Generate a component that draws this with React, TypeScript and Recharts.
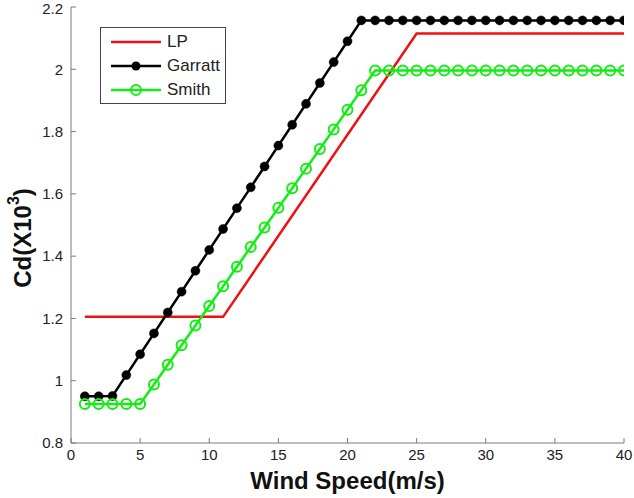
import React from "react";
import { Label, Line, LineChart, XAxis, YAxis } from "recharts";

const windSpeed = [
  1, 2, 3, 4, 5, 6, 7, 8, 9, 10, 11, 12, 13, 14, 15, 16, 17, 18, 19, 20,
  21, 22, 23, 24, 25, 26, 27, 28, 29, 30, 31, 32, 33, 34, 35, 36, 37, 38, 39, 40,
];

const garratt = [
  0.95, 0.95, 0.951, 1.018, 1.085, 1.152, 1.219, 1.286, 1.353, 1.42,
  1.487, 1.554, 1.621, 1.688, 1.755, 1.822, 1.889, 1.956, 2.023, 2.09,
  2.157, 2.157, 2.157, 2.157, 2.157, 2.157, 2.157, 2.157, 2.157, 2.157,
  2.157, 2.157, 2.157, 2.157, 2.157, 2.157, 2.157, 2.157, 2.157, 2.157,
];

const smith = [
  0.925, 0.925, 0.925, 0.925, 0.925, 0.988, 1.051, 1.114, 1.177, 1.24,
  1.303, 1.366, 1.429, 1.492, 1.555, 1.618, 1.681, 1.744, 1.807, 1.87,
  1.933, 1.996, 1.996, 1.996, 1.996, 1.996, 1.996, 1.996, 1.996, 1.996,
  1.996, 1.996, 1.996, 1.996, 1.996, 1.996, 1.996, 1.996, 1.996, 1.996,
];

// LP is piecewise linear, only the corners are needed
const lpSpeed = [1, 11, 25, 40];
const lpCd = [1.205, 1.205, 2.115, 2.115];

const xTicks = [0, 5, 10, 15, 20, 25, 30, 35, 40];
const yTicks = [0.8, 1, 1.2, 1.4, 1.6, 1.8, 2, 2.2];

const rows = windSpeed.map((u, i) => ({ u, garratt: garratt[i], smith: smith[i] }));
const lpRows = lpSpeed.map((u, i) => ({ u, lp: lpCd[i] }));

const FONT = "'Liberation Sans', Arial, sans-serif";
const AXIS = "#7a7a7a";
const GREEN = "#11ee11";
const RED = "#ee1111";
const tickStyle = { fontSize: 15, fill: "#222", fontFamily: FONT };

const fmtY = (v: number) => String(Number(v.toFixed(1)));

function YTitle() {
  const cx = 22;
  const cy = 238;
  return (
    <text
      x={cx}
      y={cy}
      transform={`rotate(-90 ${cx} ${cy})`}
      textAnchor="middle"
      dominantBaseline="central"
      style={{ fontSize: 24, fontWeight: "bold", fontFamily: FONT, fill: "#111" }}
    >
      Cd(X10
      <tspan dy={-9} style={{ fontSize: 16 }}>3</tspan>
      <tspan dy={9}>)</tspan>
    </text>
  );
}

function LegendBox() {
  const items = [
    { name: "LP", color: RED, marker: null },
    { name: "Garratt", color: "#000", marker: "filled" },
    { name: "Smith", color: GREEN, marker: "open" },
  ];
  return (
    <div
      style={{
        position: "absolute",
        left: 100,
        top: 27,
        width: 124,
        height: 75,
        border: "1px solid #444",
        background: "#fff",
        fontFamily: FONT,
        fontSize: 17,
        color: "#222",
      }}
    >
      {items.map((it, i) => (
        <div
          key={it.name}
          style={{ position: "absolute", left: 0, top: 3 + i * 24, height: 22, display: "flex", alignItems: "center" }}
        >
          <svg width={62} height={22} style={{ display: "block" }}>
            <line x1={10} x2={60} y1={11} y2={11} stroke={it.color} strokeWidth={2.5} />
            {it.marker === "filled" && <circle cx={35} cy={11} r={4.5} fill="#000" />}
            {it.marker === "open" && <circle cx={35} cy={11} r={5} fill="none" stroke={GREEN} strokeWidth={2} />}
          </svg>
          <span style={{ marginLeft: 4 }}>{it.name}</span>
        </div>
      ))}
    </div>
  );
}

export default function App() {
  return (
    <div style={{ position: "absolute", left: 0, top: 0, width: 634, height: 498, background: "#fff" }}>
      <LineChart width={634} height={498} margin={{ top: 7, right: 10, bottom: 5, left: 11 }}>
        <XAxis
          xAxisId="bottom"
          dataKey="u"
          type="number"
          domain={[0, 40]}
          ticks={xTicks}
          allowDataOverflow
          height={50}
          stroke={AXIS}
          tickSize={-5}
          tickMargin={11}
          tick={tickStyle}
        >
          <Label
            value="Wind Speed(m/s)"
            position="insideBottom"
            offset={4}
            style={{ fontSize: 24, fontWeight: "bold", fontFamily: FONT, fill: "#111" }}
          />
        </XAxis>
        <XAxis
          xAxisId="top"
          orientation="top"
          dataKey="u"
          type="number"
          domain={[0, 40]}
          ticks={xTicks}
          height={0}
          stroke={AXIS}
          tickSize={-5}
          tick={false}
        />
        <YAxis
          yAxisId="left"
          type="number"
          domain={[0.8, 2.2]}
          ticks={yTicks}
          allowDataOverflow
          width={60}
          stroke={AXIS}
          tickSize={-5}
          tickMargin={13}
          tick={tickStyle}
          tickFormatter={fmtY}
        >
          <Label content={<YTitle />} />
        </YAxis>
        <YAxis
          yAxisId="right"
          orientation="right"
          type="number"
          domain={[0.8, 2.2]}
          ticks={yTicks}
          width={0}
          stroke={AXIS}
          tickSize={-5}
          tick={false}
        />
        <Line
          xAxisId="bottom"
          yAxisId="left"
          data={lpRows}
          dataKey="lp"
          stroke={RED}
          strokeWidth={2.5}
          dot={false}
          isAnimationActive={false}
        />
        <Line
          xAxisId="bottom"
          yAxisId="left"
          data={rows}
          dataKey="garratt"
          stroke="#000"
          strokeWidth={2.5}
          dot={{ r: 4.5, fill: "#000", stroke: "#000", strokeWidth: 0.5 }}
          isAnimationActive={false}
        />
        <Line
          xAxisId="bottom"
          yAxisId="left"
          data={rows}
          dataKey="smith"
          stroke={GREEN}
          strokeWidth={2.5}
          dot={{ r: 5, fill: "none", stroke: GREEN, strokeWidth: 2 }}
          isAnimationActive={false}
        />
      </LineChart>
      <LegendBox />
    </div>
  );
}
